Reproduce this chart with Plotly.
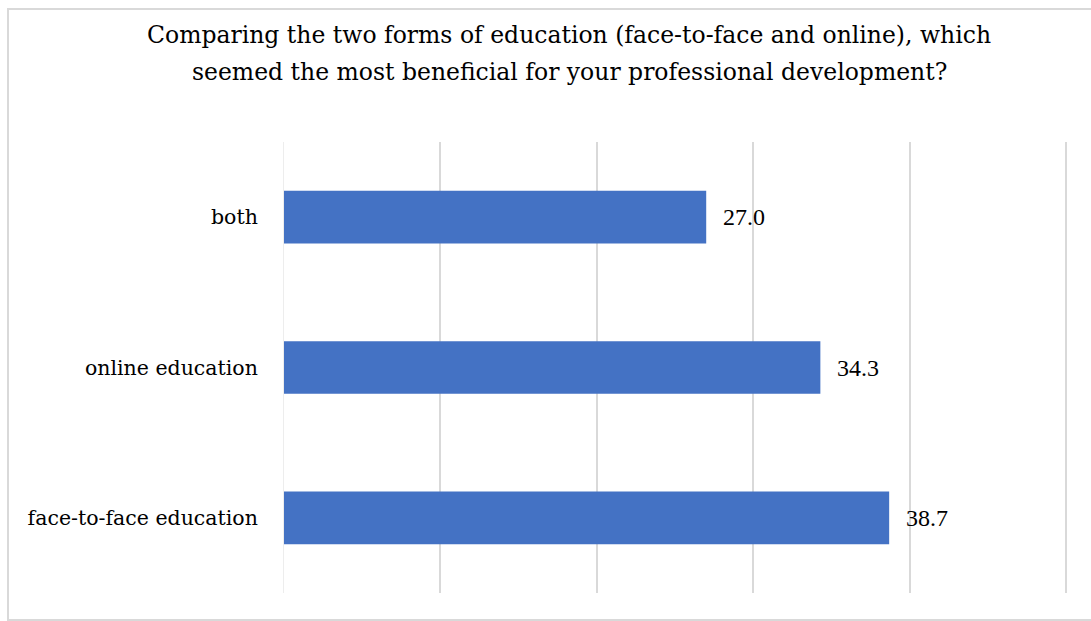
import plotly.graph_objects as go

# Survey answers (percent of respondents)
categories = ["face-to-face education", "online education", "both"]
values = [38.7, 34.3, 27.0]
value_labels = ["38.7", "34.3", "27.0"]

title_lines = [
    "Comparing the two forms of education (face-to-face and online), which",
    "seemed the most beneficial for your professional development?",
]

BAR_COLOR = "#4472C4"
GRID_COLOR = "#D9D9D9"
SERIF = "DejaVu Serif, serif"
TIMES = "Liberation Serif, serif"

# x range runs a hair past 50 so the last gridline is drawn
X_MAX = 50.2
PLOT_L, PLOT_R = 284, 1069
PLOT_T, PLOT_B = 142, 593
W, H = 1091, 621


def px_to_paper_x(px):
    return (px - PLOT_L) / (PLOT_R - PLOT_L)


def px_to_paper_y(py):
    return (PLOT_B - py) / (PLOT_B - PLOT_T)


fig = go.Figure()
fig.add_trace(go.Bar(
    x=values,
    y=categories,
    orientation="h",
    marker=dict(color=BAR_COLOR, line=dict(width=0)),
    width=0.35,
    hoverinfo="skip",
))

# value labels placed just past the bar ends
for cat, val, lab in zip(categories, values, value_labels):
    fig.add_annotation(
        x=val, y=cat, text=lab, showarrow=False,
        xanchor="left", yanchor="middle", xshift=15,
        font=dict(family=TIMES, size=24, color="#000000"),
    )

# two-line chart title, with wide line spacing
for line, ypx in zip(title_lines, [35, 72]):
    fig.add_annotation(
        x=px_to_paper_x(569), y=px_to_paper_y(ypx), xref="paper", yref="paper",
        text=line, showarrow=False, xanchor="center", yanchor="middle",
        font=dict(family=SERIF, size=23.5, color="#000000"),
    )

# light frame around the chart area
fig.add_shape(
    type="rect", xref="paper", yref="paper",
    x0=px_to_paper_x(8), x1=px_to_paper_x(1096),
    y0=px_to_paper_y(620), y1=px_to_paper_y(9),
    line=dict(color="#D9D9D9", width=2), fillcolor="rgba(0,0,0,0)", layer="below",
)

fig.update_layout(
    width=W, height=H,
    margin=dict(l=PLOT_L, r=W - PLOT_R, t=PLOT_T, b=H - PLOT_B),
    paper_bgcolor="white", plot_bgcolor="white",
    showlegend=False,
    xaxis=dict(
        range=[0, X_MAX], tick0=0, dtick=10, showticklabels=False,
        showgrid=True, gridcolor=GRID_COLOR, gridwidth=1.5,
        zeroline=False, showline=False, fixedrange=True,
    ),
    yaxis=dict(
        range=[-0.5, 2.5], showgrid=False, zeroline=False,
        showline=True, linecolor="#EDEDED", linewidth=1,
        ticks="", ticklabelstandoff=21,
        tickfont=dict(family=SERIF, size=20.5, color="#000000"),
    ),
)

fig.write_html("out.html")
